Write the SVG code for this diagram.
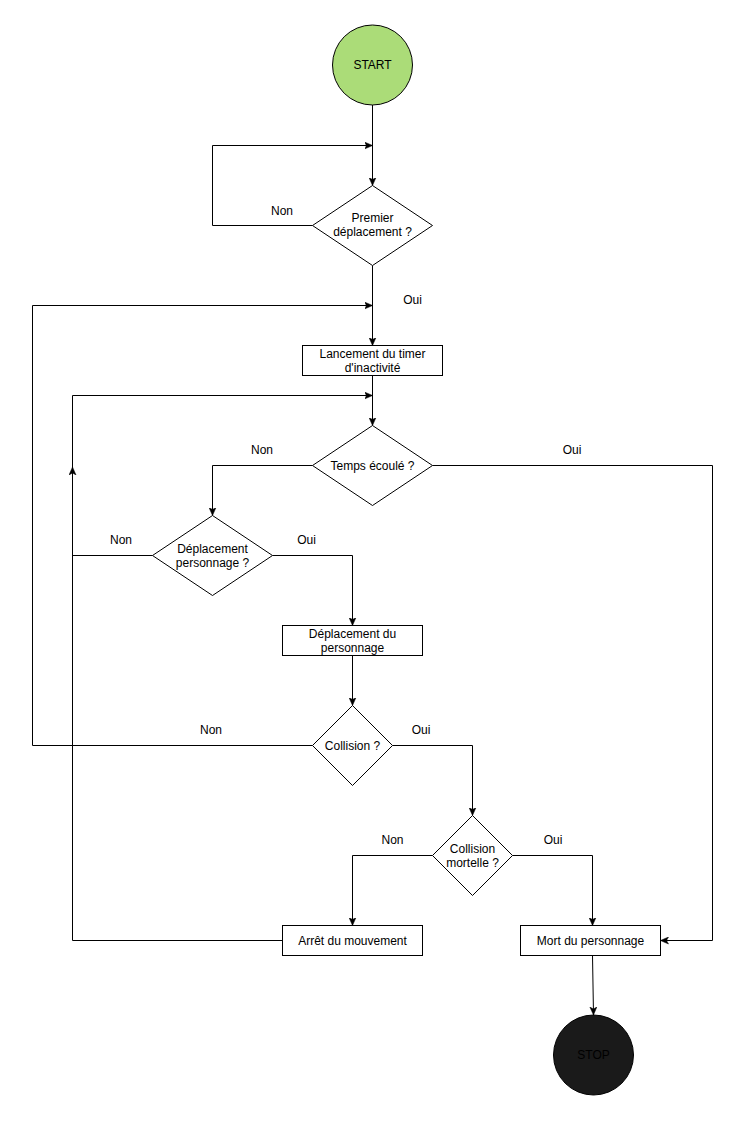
<svg xmlns="http://www.w3.org/2000/svg" width="746" height="1121" viewBox="0 0 746 1121">
<style>
text{font-family:"Liberation Sans",Arial,Helvetica,sans-serif;font-size:12px;fill:#000;text-anchor:middle}
.n{fill:#fff;stroke:#000;stroke-width:1}
.e{fill:none;stroke:#000;stroke-width:1;marker-end:url(#arr)}
</style>
<defs>
<marker id="arr" viewBox="0 0 8 8" refX="8" refY="4" markerWidth="8" markerHeight="8" markerUnits="userSpaceOnUse" orient="auto">
<path d="M0,0.5 L8,4 L0,7.5 L2,4 Z" fill="#000" stroke="#000" stroke-width="0.5"/>
</marker>
</defs>
<rect width="746" height="1121" fill="#fff"/>
<g id="connectors">
<path class="e" d="M372.5,105 V185.5"/>
<path class="e" d="M312.5,225.5 H212.5 V145.5 H372.5"/>
<path class="e" d="M372.5,265.5 V345.5"/>
<path class="e" d="M312.5,745.5 H32.5 V305.5 H372.5"/>
<path class="e" d="M372.5,375.5 V425.5"/>
<path class="e" d="M152.5,555.5 H72.5 V395.5 H372.5"/>
<path class="e" d="M312.5,465.5 H212.5 V515.5"/>
<path class="e" d="M432.5,465.5 H712.5 V940.5 H660.5"/>
<path class="e" d="M272.5,555.5 H352.5 V625.5"/>
<path class="e" d="M352.5,655.5 V705.5"/>
<path class="e" d="M392.5,745.5 H472.5 V815.5"/>
<path class="e" d="M432.5,855.5 H352.5 V925.5"/>
<path class="e" d="M512.5,855.5 H592.5 V925.5"/>
<path class="e" d="M282.5,940.5 H72.5 V467"/>
<path class="e" d="M592.5,955.5 L593.5,1015"/>
<text x="282" y="214.5">Non</text>
<text x="412.5" y="304">Oui</text>
<text x="262" y="453.5">Non</text>
<text x="572" y="453.5">Oui</text>
<text x="121" y="543.5">Non</text>
<text x="306.5" y="543.5">Oui</text>
<text x="211" y="733.5">Non</text>
<text x="421" y="733.5">Oui</text>
<text x="392.5" y="843.5">Non</text>
<text x="553" y="843.5">Oui</text>
</g>
<g id="start">
<circle cx="372.5" cy="65" r="40" fill="#abdc78" stroke="#000"/>
<text x="372.5" y="69">START</text>
</g>
<g id="premier-deplacement">
<polygon class="n" points="372.5,185.5 432.5,225.5 372.5,265.5 312.5,225.5"/>
<text x="372.5" y="222">Premier</text>
<text x="372.5" y="236">déplacement ?</text>
</g>
<g id="lancement-timer">
<rect class="n" x="302.5" y="345.5" width="140" height="30"/>
<text x="372.5" y="357.5">Lancement du timer</text>
<text x="372.5" y="371.5">d'inactivité</text>
</g>
<g id="temps-ecoule">
<polygon class="n" points="372.5,425.5 432.5,465.5 372.5,505.5 312.5,465.5"/>
<text x="372.5" y="469.5">Temps écoulé ?</text>
</g>
<g id="deplacement-personnage-q">
<polygon class="n" points="212.5,515.5 272.5,555.5 212.5,595.5 152.5,555.5"/>
<text x="212.5" y="552.5">Déplacement</text>
<text x="212.5" y="566.5">personnage ?</text>
</g>
<g id="deplacement-personnage">
<rect class="n" x="282.5" y="625.5" width="140" height="30"/>
<text x="352.5" y="637.5">Déplacement du</text>
<text x="352.5" y="651.5">personnage</text>
</g>
<g id="collision">
<polygon class="n" points="352.5,705.5 392.5,745.5 352.5,785.5 312.5,745.5"/>
<text x="352.5" y="749.5">Collision ?</text>
</g>
<g id="collision-mortelle">
<polygon class="n" points="472.5,815.5 512.5,855.5 472.5,895.5 432.5,855.5"/>
<text x="472.5" y="852.5">Collision</text>
<text x="472.5" y="866.5">mortelle ?</text>
</g>
<g id="arret-mouvement">
<rect class="n" x="282.5" y="925.5" width="140" height="30"/>
<text x="352.5" y="944.5">Arrêt du mouvement</text>
</g>
<g id="mort-personnage">
<rect class="n" x="520.5" y="925.5" width="140" height="30"/>
<text x="590.5" y="944.5">Mort du personnage</text>
</g>
<g id="stop">
<circle cx="593.5" cy="1055" r="40" fill="#1a1a1a" stroke="#000"/>
<text x="593.5" y="1059" style="fill:#000">STOP</text>
</g>
</svg>
